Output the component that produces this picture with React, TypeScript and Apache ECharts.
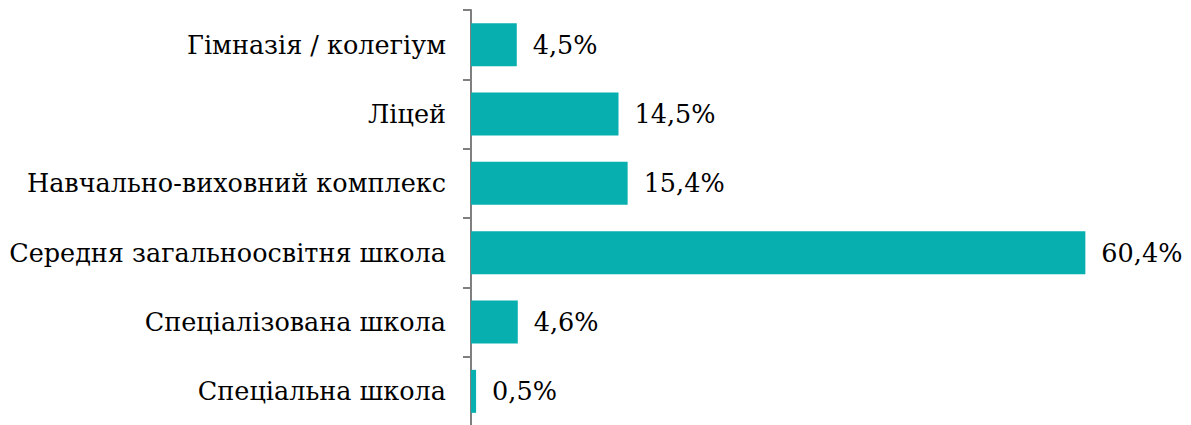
import React, { useEffect, useRef } from "react";
import * as echarts from "echarts";

const categories = [
  "Гімназія / колегіум",
  "Ліцей",
  "Навчально-виховний комплекс",
  "Середня загальноосвітня школа",
  "Спеціалізована школа",
  "Спеціальна школа",
];
const values = [4.5, 14.5, 15.4, 60.4, 4.6, 0.5];

const FONT = "DejaVu Serif";

export default function App() {
  const ref = useRef<HTMLDivElement>(null);
  useEffect(() => {
    if (!ref.current) return;
    const chart = echarts.init(ref.current, undefined, { renderer: "svg" });
    chart.setOption({
      animation: false,
      textStyle: { fontFamily: FONT },
      grid: {
        left: 471,
        top: 10,
        width: 712,
        height: 416,
        containLabel: false,
        outerBoundsMode: "none",
      },
      xAxis: {
        type: "value",
        min: 0,
        max: 70,
        show: false,
      },
      yAxis: {
        type: "category",
        data: categories,
        inverse: true,
        axisLine: { show: true, lineStyle: { color: "#7f7f7f", width: 2 } },
        axisTick: { show: true, length: 8, lineStyle: { color: "#7f7f7f", width: 2 } },
        axisLabel: {
          margin: 25,
          color: "#000",
          fontFamily: FONT,
          fontSize: 25.5,
        },
      },
      series: [
        {
          type: "bar",
          data: values,
          barCategoryGap: "38%",
          itemStyle: { color: "#07AFAF" },
          label: {
            show: true,
            position: "right",
            distance: 16,
            color: "#000",
            fontFamily: FONT,
            fontSize: 25.5,
            formatter: (p: any) => p.value.toFixed(1).replace(".", ",") + "%",
          },
        },
      ],
    });
    return () => chart.dispose();
  }, []);
  return (
    <div
      ref={ref}
      style={{ position: "fixed", left: 0, top: 0, width: 1191, height: 425, background: "#fff" }}
    />
  );
}
